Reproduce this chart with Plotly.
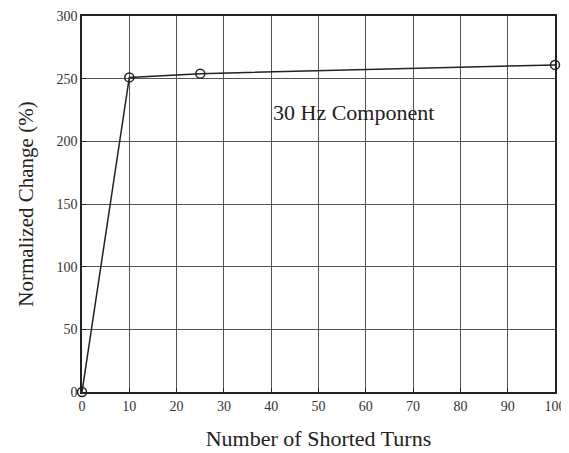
import plotly.graph_objects as go

turns = [0, 10, 25, 100]
change = [0, 251, 254, 261]
x_ticks = [0, 10, 20, 30, 40, 50, 60, 70, 80, 90, 100]
y_ticks = [0, 50, 100, 150, 200, 250, 300]

serif = "Liberation Serif"

fig = go.Figure()
fig.add_trace(
    go.Scatter(
        x=turns,
        y=change,
        mode="lines+markers",
        line=dict(color="#222", width=1.5),
        marker=dict(symbol="circle-open", size=9, color="#222", line=dict(width=1.5)),
        showlegend=False,
        cliponaxis=False,
    )
)
fig.add_annotation(
    x=57.5, y=223, text="30 Hz Component", showarrow=False,
    font=dict(family=serif, size=22, color="#222"),
)

axis_common = dict(
    showline=True, linecolor="#222", linewidth=1.5, mirror=True,
    showgrid=True, gridcolor="#555", gridwidth=1,
    ticks="inside", ticklen=4, tickcolor="#222",
    tickfont=dict(family=serif, size=14, color="#333"),
    zeroline=False, automargin=False, ticklabeloverflow="allow",
)
fig.update_xaxes(
    range=[0, 100], tickvals=x_ticks,
    title=dict(text="Number of Shorted Turns", standoff=18,
               font=dict(family=serif, size=22, color="#222")),
    **axis_common,
)
fig.update_yaxes(
    range=[0, 300], tickvals=y_ticks,
    title=dict(text="Normalized Change (%)", standoff=17,
               font=dict(family=serif, size=21, color="#222")),
    **axis_common,
)
# the page body adds 8px on the top and left, so the figure is a bit smaller
fig.update_layout(
    width=561, height=445,
    margin=dict(l=74, r=14, t=8, b=61),
    plot_bgcolor="white", paper_bgcolor="white",
)
fig.write_html("out.html")
